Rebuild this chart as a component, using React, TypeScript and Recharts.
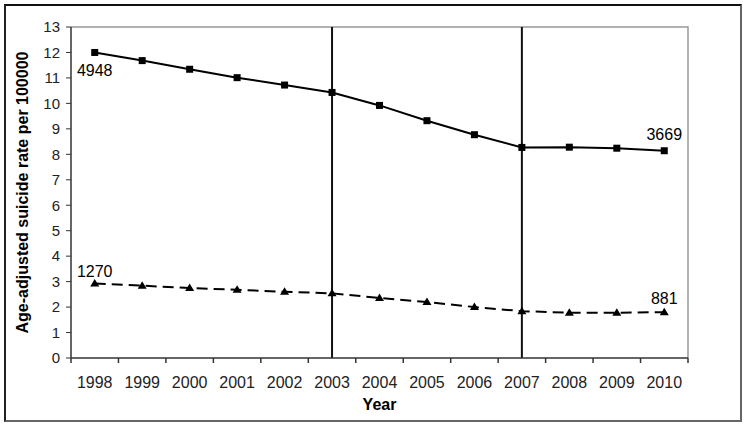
import React from 'react';
import { LineChart, Line, XAxis, YAxis, ReferenceLine, ReferenceArea, LabelList } from 'recharts';

const years = ['1998', '1999', '2000', '2001', '2002', '2003', '2004', '2005', '2006', '2007', '2008', '2009', '2010'];
const solidRates = [12.0, 11.68, 11.34, 11.01, 10.72, 10.43, 9.92, 9.32, 8.77, 8.27, 8.28, 8.24, 8.14];
const dashedRates = [2.93, 2.84, 2.75, 2.68, 2.6, 2.54, 2.36, 2.2, 2.0, 1.84, 1.78, 1.78, 1.8];
const solidLabels = ['4948', '', '', '', '', '', '', '', '', '', '', '', '3669'];
const dashedLabels = ['1270', '', '', '', '', '', '', '', '', '', '', '', '881'];
const yTicks = [0, 1, 2, 3, 4, 5, 6, 7, 8, 9, 10, 11, 12, 13];
const markerYears = ['2003', '2007'];

const data = years.map((y, i) => ({
  year: y,
  solid: solidRates[i],
  dashed: dashedRates[i],
  solidLabel: solidLabels[i],
  dashedLabel: dashedLabels[i],
}));

const FONT = '"Liberation Sans", Arial, sans-serif';

const SquareDot = (props: any) => {
  const { cx, cy } = props;
  if (cx == null || cy == null) return null;
  return <rect x={cx - 3.5} y={cy - 3.5} width={7} height={7} fill="#000" />;
};

const TriangleDot = (props: any) => {
  const { cx, cy } = props;
  if (cx == null || cy == null) return null;
  return <polygon points={`${cx},${cy - 4.5} ${cx + 4.5},${cy + 3} ${cx - 4.5},${cy + 3}`} fill="#000" />;
};

const makeLabel = (dyFirst: number, dyLast: number) => (props: any) => {
  const { x, y, value, index } = props;
  if (!value) return null;
  const dy = index === 0 ? dyFirst : dyLast;
  return (
    <text x={x} y={y + dy} textAnchor="middle" dominantBaseline="central" fontFamily={FONT} fontSize={16} fill="#000">
      {value}
    </text>
  );
};

const XTick = (props: any) => {
  const { x, y, payload, index, width, visibleTicksCount } = props;
  const n = visibleTicksCount || years.length;
  const half = width ? width / n / 2 : 23.7;
  return (
    <g>
      {index === 0 && <line x1={x - half} x2={x - half} y1={y} y2={y + 5} stroke="#333" strokeWidth={1.5} />}
      <line x1={x + half} x2={x + half} y1={y} y2={y + 5} stroke="#333" strokeWidth={1.5} />
      <text x={x} y={y + 24} textAnchor="middle" dominantBaseline="central" fontFamily={FONT} fontSize={16} fill="#222">
        {payload.value}
      </text>
    </g>
  );
};

const PlotFrame = (props: any) => {
  const { x, y, width, height } = props;
  if (x == null || y == null) return null;
  return <path d={`M${x},${y} H${x + width} V${y + height}`} fill="none" stroke="#999" strokeWidth={1.5} />;
};

const YTitle = (props: any) => {
  const vb = props.viewBox;
  const cx = vb.x + 16;
  const cy = vb.y + vb.height / 2;
  return (
    <text
      x={cx}
      y={cy}
      transform={`rotate(-90, ${cx}, ${cy})`}
      textAnchor="middle"
      dominantBaseline="central"
      fontFamily={FONT}
      fontSize={16}
      fontWeight="bold"
      fill="#000"
    >
      Age-adjusted suicide rate per 100000
    </text>
  );
};

export default function App() {
  return (
    <div style={{ position: 'absolute', left: 0, top: 0, width: 747, height: 428, background: '#fff' }}>
      <div
        style={{
          position: 'absolute',
          left: 4,
          top: 4,
          width: 738,
          height: 418,
          boxSizing: 'border-box',
          borderTop: '2px solid #111',
          borderLeft: '2px solid #222',
          borderRight: '2px solid #666',
          borderBottom: '2px solid #666',
        }}
      />
      <div style={{ position: 'absolute', left: 0, top: 0 }}>
        <LineChart width={747} height={428} data={data} margin={{ top: 27, right: 59, left: 6, bottom: 10 }}>
          <ReferenceArea y1={0} y2={13} shape={<PlotFrame />} />
          <XAxis
            dataKey="year"
            scale="band"
            height={60}
            interval={0}
            tickLine={false}
            tickSize={0}
            tickMargin={0}
            axisLine={{ stroke: '#333', strokeWidth: 1.5 }}
            tick={<XTick />}
            label={{ value: 'Year', position: 'insideBottom', offset: 8, fill: '#000', fontSize: 16, fontWeight: 'bold', fontFamily: FONT }}
          />
          <YAxis
            domain={[0, 13]}
            ticks={yTicks}
            interval={0}
            width={65}
            tickSize={5}
            tickMargin={6}
            axisLine={{ stroke: '#333', strokeWidth: 1.5 }}
            tickLine={{ stroke: '#333' }}
            tick={{ fill: '#222', fontSize: 15, fontFamily: FONT }}
            label={<YTitle />}
          />
          {markerYears.map((m) => (
            <ReferenceLine key={m} x={m} stroke="#111" strokeWidth={2} />
          ))}
          <Line
            type="linear"
            dataKey="solid"
            stroke="#000"
            strokeWidth={2}
            dot={<SquareDot />}
            activeDot={false}
            isAnimationActive={false}
          >
            <LabelList dataKey="solidLabel" content={makeLabel(18, -16)} />
          </Line>
          <Line
            type="linear"
            dataKey="dashed"
            stroke="#000"
            strokeWidth={2}
            strokeDasharray="11 6"
            dot={<TriangleDot />}
            activeDot={false}
            isAnimationActive={false}
          >
            <LabelList dataKey="dashedLabel" content={makeLabel(-12, -14)} />
          </Line>
        </LineChart>
      </div>
    </div>
  );
}
